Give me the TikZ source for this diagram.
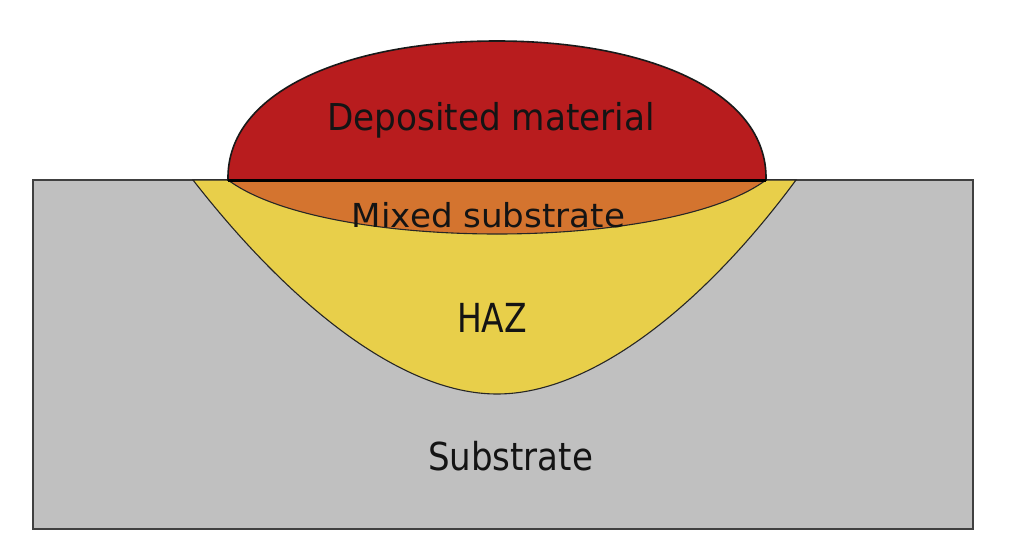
\documentclass[tikz,border=0pt]{standalone}
\usepackage{fontspec}
\usepackage{graphicx}
\newfontfamily\labfont{DejaVu Sans}
\definecolor{subgray}{HTML}{C0C0C0}
\definecolor{depred}{HTML}{B81C1E}
\definecolor{mixorange}{HTML}{D4742F}
\definecolor{hazyellow}{HTML}{E8CF4A}
\definecolor{edgegray}{HTML}{404040}
\newcommand\fitlabel[3]{\resizebox{#1pt}{\height}{\fontsize{#2}{#2}\selectfont\labfont #3}}
\tikzset{
  lbl/.style={inner sep=0pt, anchor=base, text=black!92},
  thinedge/.style={draw=black!85, line width=1.1pt},
}
\begin{document}
\begin{tikzpicture}[x=1pt,y=-1pt]
\useasboundingbox (0,0) rectangle (1024,559);
\fill[white] (0,0) rectangle (1024,559);
% substrate
\draw[fill=subgray, draw=edgegray, line width=1.4pt] (33,180) rectangle (973,529);
% HAZ
\coordinate (hl) at (193,180);
\coordinate (hr) at (796,180);
\coordinate (hb) at (497,394);
\draw[fill=hazyellow, thinedge] (hl) .. controls (288,302) and (400,394) .. (hb)
   .. controls (594,394) and (706,302) .. (hr) -- cycle;
% mixed substrate
\coordinate (ml) at (228,180);
\coordinate (mr) at (766,180);
\draw[fill=mixorange, thinedge] (ml) .. controls (325,252) and (669,252) .. (mr) -- cycle;
% deposited material
\coordinate (dt) at (497,41);
\draw[fill=depred, draw=black!90, line width=1.6pt] (ml) .. controls (226,90) and (350,41) .. (dt)
   .. controls (644,41) and (768,90) .. (mr) -- cycle;
\draw[black, line width=3pt] (ml) -- (mr);
% labels
\node[lbl] (dep) at (491,130) {\fitlabel{328}{37}{Deposited material}};
\node[lbl] (mix) at (488.5,227) {\fitlabel{273}{33}{Mixed substrate}};
\node[lbl] (haz) at (492,332) {\fitlabel{70}{40}{HAZ}};
\node[lbl] (sub) at (510.5,470) {\fitlabel{165}{38.5}{Substrate}};
\end{tikzpicture}
\end{document}
